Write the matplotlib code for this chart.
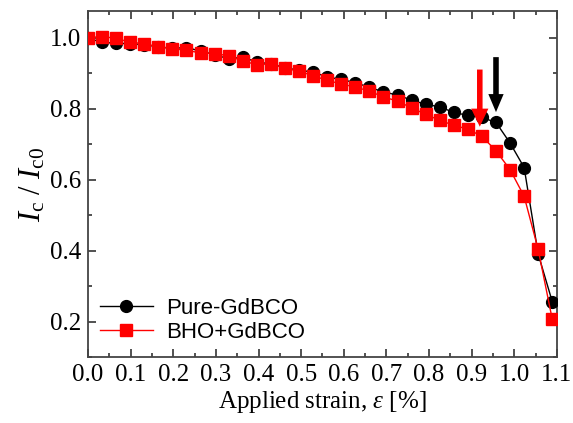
import matplotlib
matplotlib.use("Agg")
import matplotlib.pyplot as plt
from matplotlib.patches import FancyArrowPatch
from matplotlib.ticker import MultipleLocator

# strain [%] and normalised critical current
strain = [0.000, 0.033, 0.066, 0.099, 0.132, 0.165, 0.198, 0.231, 0.264, 0.297,
          0.330, 0.363, 0.396, 0.429, 0.462, 0.495, 0.528, 0.561, 0.594, 0.627,
          0.660, 0.693, 0.726, 0.759, 0.792, 0.825, 0.858, 0.891, 0.924, 0.957,
          0.990, 1.023, 1.056, 1.089]
ic_pure = [0.998, 0.987, 0.984, 0.983, 0.980, 0.974, 0.970, 0.972, 0.962, 0.952,
           0.940, 0.945, 0.931, 0.926, 0.915, 0.908, 0.903, 0.889, 0.882, 0.873,
           0.860, 0.847, 0.838, 0.824, 0.812, 0.805, 0.789, 0.781, 0.775, 0.761,
           0.703, 0.634, 0.390, 0.256]
ic_bho = [1.000, 1.003, 0.998, 0.987, 0.983, 0.974, 0.969, 0.964, 0.957, 0.955,
          0.949, 0.934, 0.924, 0.926, 0.913, 0.906, 0.892, 0.880, 0.869, 0.861,
          0.849, 0.833, 0.821, 0.802, 0.784, 0.767, 0.753, 0.742, 0.722, 0.681,
          0.628, 0.553, 0.403, 0.206]

# arrows marking the onset of degradation (x, y_start, y_tip)
arrow_pure = (0.957, 0.945, 0.790)
arrow_bho = (0.919, 0.910, 0.749)

plt.rcParams['mathtext.fontset'] = 'custom'
plt.rcParams['mathtext.rm'] = 'Liberation Serif'
plt.rcParams['mathtext.it'] = 'Liberation Serif:italic'

fig = plt.figure(figsize=(5.73, 4.23), dpi=100)
ax = fig.add_axes([0.1536, 0.156, 0.8184, 0.818])

ax.plot(strain, ic_pure, '-o', color='black', lw=1.0, ms=8.5, label='Pure-GdBCO', zorder=3)
ax.plot(strain, ic_bho, '-s', color='#ff0000', lw=1.0, ms=8.5, label='BHO+GdBCO', zorder=3)

for (ax_x, y0, y1), col, hw in [(arrow_pure, 'black', 0.55), (arrow_bho, '#ff0000', 0.62)]:
    arr = FancyArrowPatch((ax_x, y0), (ax_x, y1),
                          arrowstyle=f'simple,head_width={hw},head_length=0.65,tail_width=0.2',
                          mutation_scale=20, color=col, lw=0, shrinkA=0, shrinkB=0, zorder=10)
    ax.add_patch(arr)

ax.set_xlim(0.0, 1.1)
ax.set_ylim(0.1, 1.075)
ax.xaxis.set_major_locator(MultipleLocator(0.1))
ax.xaxis.set_minor_locator(MultipleLocator(0.05))
ax.yaxis.set_major_locator(MultipleLocator(0.2))
ax.yaxis.set_minor_locator(MultipleLocator(0.1))
ax.set_yticks([0.2, 0.4, 0.6, 0.8, 1.0])
ax.set_xticklabels([f"{v:.1f}" for v in ax.get_xticks()])
ax.set_yticklabels([f"{v:.1f}" for v in ax.get_yticks()])

ax.tick_params(which='both', direction='in', top=True, right=True, color='#333333')
ax.tick_params(which='major', length=6, width=1.2, pad=5)
ax.tick_params(which='minor', length=3, width=1.2)
for lab in ax.get_xticklabels() + ax.get_yticklabels():
    lab.set_fontfamily('Liberation Serif')
    lab.set_fontsize(18)
for sp in ax.spines.values():
    sp.set_color('#444444')
    sp.set_linewidth(1.3)

ax.set_xlabel(r'Applied strain, $\mathit{\varepsilon}$ [%]', fontfamily='Liberation Serif',
              fontsize=18, labelpad=2)
ax.set_ylabel(r'$I_\mathrm{c}\ /\ I_\mathrm{c0}$', fontsize=22, labelpad=2)

leg = ax.legend(loc='lower left', frameon=False, prop={'family': 'Liberation Sans', 'size': 16},
                handlelength=2.4, handletextpad=0.6, labelspacing=0.15,
                bbox_to_anchor=(-0.018, -0.018))

fig.savefig('out.png', dpi=100)
